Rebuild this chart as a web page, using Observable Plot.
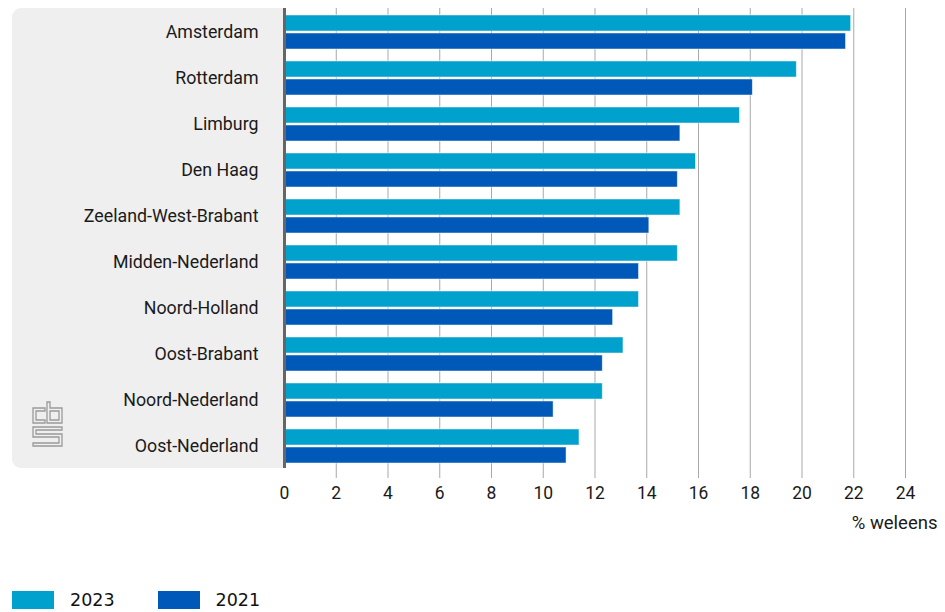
<!DOCTYPE html>
<html>
<head>
<meta charset="utf-8">
<script src="https://cdn.jsdelivr.net/npm/d3@7"></script>
<script src="https://cdn.jsdelivr.net/npm/@observablehq/plot@0.6"></script>
<style>
  html, body { margin: 0; padding: 0; background: #fff; }
  #wrap { position: relative; width: 945px; height: 612px; overflow: hidden; font-family: Roboto, "Noto Sans", sans-serif; color: #1a1a1a; }
  #panel { position: absolute; left: 12px; top: 8px; width: 272px; height: 460px; background: #efefef; border-radius: 9px 0 0 9px; }
  #chart { position: absolute; left: 0; top: 0; }
  #logo { position: absolute; left: 30px; top: 400px; }
  #legend { position: absolute; left: 12px; top: 591px; display: flex; align-items: flex-start; font-family: "DejaVu Sans", sans-serif; font-size: 17.5px; color: #111; }
  .item { display: flex; align-items: flex-start; margin-right: 43px; }
  .sw { width: 42px; height: 18px; margin-right: 16px; }
  .lab { line-height: 18px; }
</style>
</head>
<body>
<div id="wrap">
  <div id="panel"></div>
  <svg id="logo" width="36" height="50" viewBox="0 0 36 50" fill="none" stroke="#9a9a9a" stroke-width="1.3">
    <path d="M15 8 H3 V23 H15 V20 H6 V11 H15 Z"/>
    <path d="M17 2 H20 V8 H32 V23 H17 Z M20 11 V20 H29 V11 Z"/>
    <path d="M3 27 H32 V30 H6 V34 H32 V46 H3 V43 H29 V37 H3 Z"/>
  </svg>
  <div id="chart"></div>
  <div id="legend">
    <div class="item"><div class="sw" style="background:#00A1CD"></div><div class="lab">2023</div></div>
    <div class="item"><div class="sw" style="background:#0058B8"></div><div class="lab">2021</div></div>
  </div>
</div>
<script>
const regions = ["Amsterdam", "Rotterdam", "Limburg", "Den Haag", "Zeeland-West-Brabant",
  "Midden-Nederland", "Noord-Holland", "Oost-Brabant", "Noord-Nederland", "Oost-Nederland"];
const values2023 = [21.9, 19.8, 17.6, 15.9, 15.3, 15.2, 13.7, 13.1, 12.3, 11.4];
const values2021 = [21.7, 18.1, 15.3, 15.2, 14.1, 13.7, 12.7, 12.3, 10.4, 10.9];
const xTicks = [0, 2, 4, 6, 8, 10, 12, 14, 16, 18, 20, 22, 24];
const xLabel = "% weleens";
const series = ["2023", "2021"];
const colors = ["#00A1CD", "#0058B8"];

const rows2023 = regions.map((r, i) => ({region: r, year: series[0], value: values2023[i]}));
const rows2021 = regions.map((r, i) => ({region: r, year: series[1], value: values2021[i]}));

const chart = Plot.plot({
  width: 945,
  height: 545,
  marginLeft: 284,
  marginRight: 40,
  marginTop: 9,
  marginBottom: 76,
  style: {background: "transparent", color: "#1a1a1a", fontFamily: "Roboto, 'Noto Sans', sans-serif"},
  x: {domain: [0, 24]},
  y: {domain: regions, paddingInner: 12 / 46, paddingOuter: 6 / 46},
  marks: [
    Plot.ruleX(xTicks.filter(d => d > 0), {stroke: "#a8a8a8", strokeWidth: 1, insetTop: -1, insetBottom: -9}),
    Plot.barX(rows2023, {x: "value", y: "region", fill: colors[0], insetBottom: 18, stroke: "#ffffff", strokeWidth: 0.8, strokeOpacity: 0.6}),
    Plot.barX(rows2021, {x: "value", y: "region", fill: colors[1], insetTop: 18, stroke: "#ffffff", strokeWidth: 0.8, strokeOpacity: 0.6}),
    Plot.ruleX([0], {stroke: "#666", strokeWidth: 3, insetTop: -1, insetBottom: 1}),
    Plot.axisY({tickSize: 0, tickPadding: 26, fontSize: 17.8, label: null}),
    Plot.axisX({ticks: xTicks, tickSize: 0, tickPadding: 17, fontSize: 17.5, label: null}),
    Plot.text([xLabel], {frameAnchor: "bottom-right", textAnchor: "end", dx: 32, dy: 59, fontSize: 18.5, fill: "#1a1a1a"})
  ]
});
document.getElementById("chart").appendChild(chart);
</script>
</body>
</html>
